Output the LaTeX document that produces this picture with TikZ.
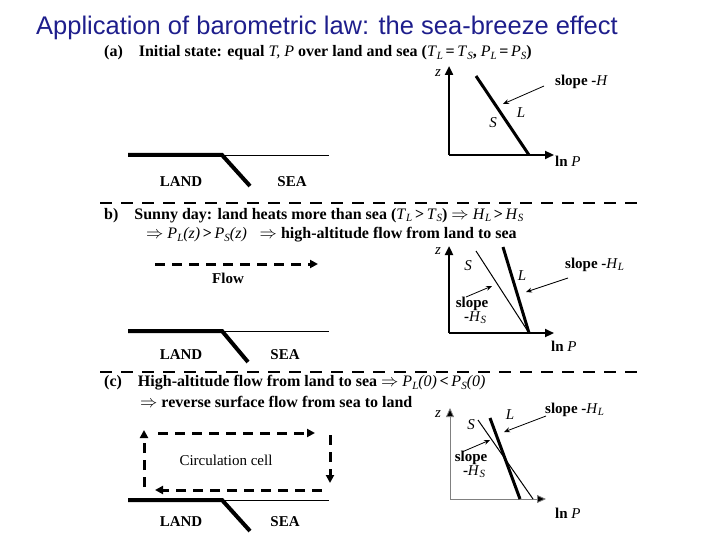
\documentclass[tikz,border=0pt]{standalone}
\usepackage{fontspec}
\setmainfont{Liberation Serif}
\newfontfamily\titlefont{Liberation Sans}
\usetikzlibrary{arrows.meta}
\definecolor{titleblue}{RGB}{30,30,140}
\newcommand\vsub[2]{\textit{\mdseries #1}\raisebox{-0.3ex}{\fontsize{11}{12}\selectfont\textit{\mdseries #2}}}
\newcommand\imp{$\Rightarrow$}
\tikzset{
  txt/.style={font=\bfseries\fontsize{15}{16}\selectfont, inner sep=0pt},
  itx/.style={font=\itshape\fontsize{15}{16}\selectfont, inner sep=0pt},
  hdr/.style={anchor=west, inner sep=0pt, font=\bfseries\fontsize{16}{17}\selectfont},
  ground/.style={line width=4pt},
  sea/.style={line width=0.8pt},
  ax/.style={line width=2.5pt, -{Triangle[length=9pt,width=8pt]}},
  axc/.style={line width=0.8pt, draw=gray, -{Triangle[length=9pt,width=8pt,fill=black]}},
  thickl/.style={line width=3pt},
  thinl/.style={line width=1pt},
  ptr/.style={line width=0.8pt, -{Stealth[length=6pt,width=5pt]}},
  sep/.style={line width=1.5pt, dash pattern=on 12pt off 9pt},
  flow/.style={line width=3pt, dash pattern=on 10pt off 7pt, -{Triangle[length=8pt,width=8pt]}},
}
\begin{document}
\begin{tikzpicture}[x=1pt,y=-1pt]
\useasboundingbox (0,0) rectangle (720,540);
\node[anchor=west, inner sep=0pt, text=titleblue, font=\titlefont\fontsize{25.5}{26}\selectfont] (title) at (36,28) {Application of barometric law: the sea-breeze effect};

% ---------- panel a
\node[hdr] (ha) at (104,53) {(a)\quad Initial state: equal \textit{\mdseries T, P} over land and sea (\vsub TL\,=\,\vsub TS, \vsub PL\,=\,\vsub PS)};
\coordinate (la0) at (128,155); \coordinate (la1) at (222,155); \coordinate (la2) at (329,155); \coordinate (la3) at (250,186);
\draw[ground] (la0) -- (la1) -- (la3);
\draw[sea] (la1) -- (la2);
\node[txt] (landa) at (181,182) {LAND};
\node[txt] (seaa) at (292,182) {SEA};
\coordinate (oa) at (449,155);
\draw[ax] (oa) -- (449,66) coordinate (za);
\draw[ax] (oa) -- (554,155) coordinate (pa);
\node[itx] (zla) at (438,73) {z};
\node[txt, anchor=west] (lnpa) at (555,161) {ln \textit{\mdseries P}};
\coordinate (a1) at (476,76); \coordinate (a2) at (529,155);
\draw[thickl] (a1) -- (a2);
\node[itx] (sa) at (493,123) {S};
\node[itx] (La) at (521,113) {L};
\node[txt, anchor=west] (slopea) at (555,82) {slope -\textit{\mdseries H}};
\coordinate (sta) at (544,86);
\draw[ptr] (sta) -- (503,104);

\draw[sep] (100,203) -- (640,203);

% ---------- panel b
\node[hdr] (hb1) at (104,215.5) {b)\quad Sunny day: land heats more than sea (\vsub TL\,>\,\vsub TS) \imp{} \vsub HL\,>\,\vsub HS};
\node[hdr] (hb2) at (146,235) {\imp{} \vsub PL\textit{\mdseries(z)}\,>\,\vsub PS\textit{\mdseries(z)}\;\; \imp{} high-altitude flow from land to sea};
\coordinate (fb0) at (155,264); \coordinate (fb1) at (318,264);
\draw[flow] (fb0) -- (fb1);
\node[txt] (flowb) at (228,278) {Flow};
\coordinate (lb0) at (128,331); \coordinate (lb1) at (222,331); \coordinate (lb2) at (329,331); \coordinate (lb3) at (248,362);
\draw[ground] (lb0) -- (lb1) -- (lb3);
\draw[sea] (lb1) -- (lb2);
\node[txt] (landb) at (181,355) {LAND};
\node[txt] (seab) at (285,355) {SEA};
\coordinate (ob) at (449,333);
\draw[ax] (ob) -- (449,246) coordinate (zb);
\draw[ax] (ob) -- (554,333) coordinate (pb);
\node[itx] (zlb) at (438,251) {z};
\node[txt, anchor=west] (lnpb) at (551,346) {ln \textit{\mdseries P}};
\draw[thinl] (476,251) -- (529,333);
\draw[thickl] (503,247) -- (529,333);
\node[itx] (sb) at (468,266) {S};
\node[itx] (Lb) at (522,276) {L};
\node[txt, anchor=west] (slopebL) at (565,265) {slope -\vsub HL};
\draw[ptr] (568,278) -- (526,292);
\node[txt] (slopebS) at (472,304) {slope};
\node[txt] (hsb) at (475,318) {-\vsub HS};
\draw[ptr] (466,297) -- (492,286);

\draw[sep] (100,372) -- (640,372);

% ---------- panel c
\node[hdr] (hc1) at (104,383) {(c)\quad High-altitude flow from land to sea \imp{} \vsub PL\textit{\mdseries(0)}\,<\,\vsub PS\textit{\mdseries(0)}};
\node[hdr] (hc2) at (140,402) {\imp{} reverse surface flow from sea to land};
\draw[flow] (158,433) -- (315,433);
\draw[flow] (330,435) -- (330,483);
\draw[flow] (322,490) -- (155,490);
\draw[flow] (144,487) -- (144,430);
\node[txt, font=\mdseries\fontsize{15}{16}\selectfont] (cell) at (226,460) {Circulation cell};
\coordinate (lc0) at (128,500); \coordinate (lc1) at (222,500); \coordinate (lc2) at (329,500); \coordinate (lc3) at (250,531);
\draw[ground] (lc0) -- (lc1) -- (lc3);
\draw[sea] (lc1) -- (lc2);
\node[txt] (landc) at (181,522) {LAND};
\node[txt] (seac) at (285,522) {SEA};
\coordinate (oc) at (450,499);
\draw[axc] (oc) -- (450,408) coordinate (zc);
\draw[axc] (oc) -- (546,499) coordinate (pc);
\node[itx] (zlc) at (438,414) {z};
\node[txt, anchor=west] (lnpc) at (555,513) {ln \textit{\mdseries P}};
\draw[thinl] (478,420) -- (533,499);
\draw[thickl] (490,418) -- (520,499);
\node[itx] (sc) at (471,425) {S};
\node[itx] (Lc) at (510,415) {L};
\node[txt, anchor=west] (slopecL) at (545,410) {slope -\vsub HL};
\draw[ptr] (546,416) -- (504,432);
\node[txt] (slopecS) at (471,458) {slope};
\node[txt] (hsc) at (474,472) {-\vsub HS};
\draw[ptr] (462,452) -- (490,440);
\end{tikzpicture}
\end{document}
